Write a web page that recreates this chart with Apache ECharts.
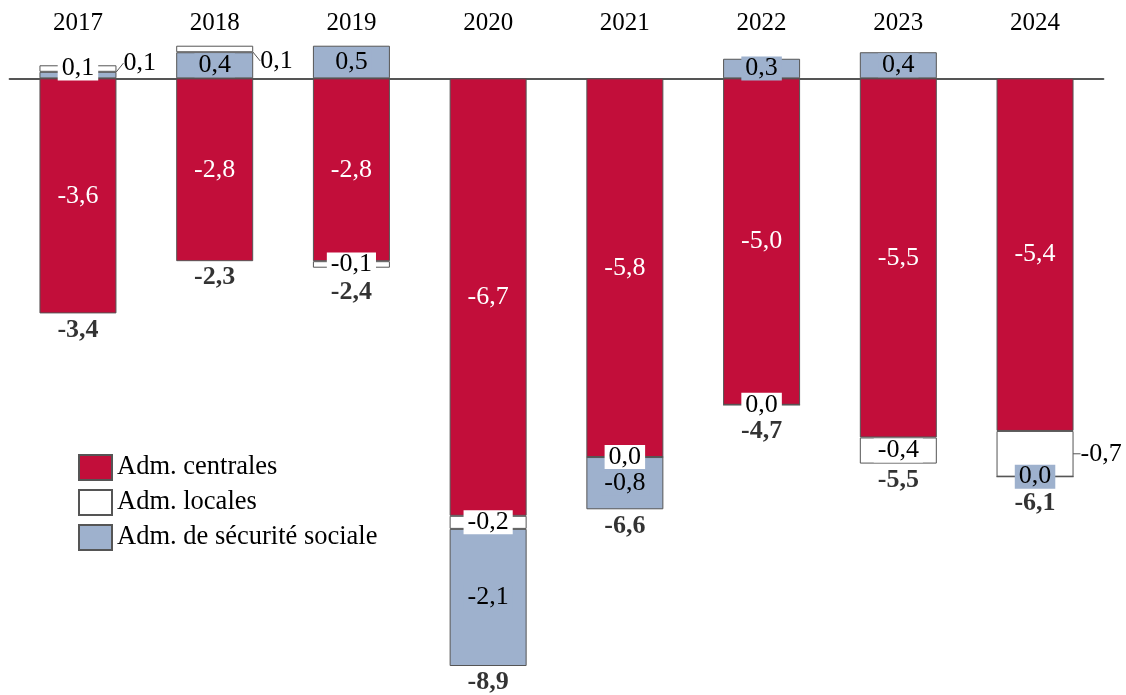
<!DOCTYPE html>
<html>
<head>
<meta charset="utf-8">
<script src="https://cdn.jsdelivr.net/npm/echarts@6/dist/echarts.min.js"></script>
<style>
  html, body { margin: 0; padding: 0; background: #fff; }
  #chart { width: 1126px; height: 695px; }
</style>
</head>
<body>
<div id="chart"></div>
<script>
// Solde des administrations publiques par sous-secteur (points de PIB)
const years = ['2017', '2018', '2019', '2020', '2021', '2022', '2023', '2024'];
const centrales = [-3.6, -2.8, -2.8, -6.7, -5.8, -5.0, -5.5, -5.4];
const locales   = [0.1, 0.1, -0.1, -0.2, 0.0, 0.0, -0.4, -0.7];
const securite  = [0.1, 0.4, 0.5, -2.1, -0.8, 0.3, 0.4, 0.0];
const totals    = [-3.4, -2.3, -2.4, -8.9, -6.6, -4.7, -5.5, -6.1];

const NAMES = ['Adm. centrales', 'Adm. locales', 'Adm. de sécurité sociale'];
const FONT = '"Liberation Serif", "DejaVu Serif", serif';
const RED = '#c20e3a', BLUE = '#9eb1cd', EDGE = '#555';

const fmt = v => v.toFixed(1).replace('.', ',');
// a zero share is drawn at the foot of the negative stack
const nz = v => (v === 0 ? -1e-9 : v);

// foot of each negative stack, where the total is written
const negFoot = years.map((_, i) =>
  [centrales[i], locales[i], securite[i]].filter(v => v < 0).reduce((a, b) => a + b, 0));

const leader = { show: true, lineStyle: { color: EDGE, width: 1 } };
const outsideRight = dy => ({
  position: 'right', distance: 7, offset: [0, dy], align: 'left', verticalAlign: 'middle',
  backgroundColor: 'transparent', padding: 0
});

// per-item label placement
const localesNegLabel = { 7: outsideRight(0) };
const localesPosLabel = { 1: outsideRight(12) };
const securiteLabel   = { 0: outsideRight(-12) };
const totalDistance   = { 2: 11, 5: 13, 7: 13 };

function withLabels(values, overrides) {
  return values.map((v, i) => {
    if (v === '-') return '-';
    if (overrides[i]) return { value: v, label: overrides[i], labelLine: leader };
    return v;
  });
}

const textBase = { fontFamily: FONT, fontSize: 26, color: '#000' };
const barBase = {
  type: 'bar', stack: 'solde', barWidth: 77, xAxisIndex: 0, yAxisIndex: 0,
  itemStyle: { borderColor: EDGE, borderWidth: 1 }
};

const chart = echarts.init(document.getElementById('chart'), null, { renderer: 'canvas' });
chart.setOption({
  animation: false,
  backgroundColor: '#fff',
  grid: { left: 9.6, right: 22.6, top: 0, bottom: 29 },
  legend: {
    data: NAMES, orient: 'vertical', left: 73, top: 449,
    itemWidth: 33, itemHeight: 25, itemGap: 8, icon: 'rect',
    textStyle: { fontFamily: FONT, fontSize: 26.5, color: '#000' }
  },
  xAxis: [
    {
      type: 'category', data: years, position: 'top',
      axisLine: { show: false, onZero: false }, axisTick: { show: false }, splitLine: { show: false },
      axisLabel: { inside: true, margin: 11, fontFamily: FONT, fontSize: 25, color: '#000' }
    },
    {
      type: 'category', data: years, position: 'bottom',
      axisLine: { show: true, onZero: true, onZeroAxisIndex: 0, lineStyle: { color: EDGE, width: 2 } },
      axisTick: { show: false }, axisLabel: { show: false }, splitLine: { show: false }
    }
  ],
  yAxis: { type: 'value', min: -9, max: 1.2, show: false, splitLine: { show: false } },
  series: [
    Object.assign({}, barBase, {
      name: NAMES[0],
      data: centrales.slice(),
      itemStyle: { color: RED, borderColor: EDGE, borderWidth: 1 },
      label: Object.assign({}, textBase, { show: true, position: 'inside', color: '#fff',
        formatter: p => fmt(centrales[p.dataIndex]) })
    }),
    Object.assign({}, barBase, {
      name: NAMES[1],
      data: withLabels(locales.map(v => (v > 0 ? '-' : nz(v))), localesNegLabel),
      itemStyle: { color: '#fff', borderColor: EDGE, borderWidth: 1 },
      label: Object.assign({}, textBase, { show: true, position: 'inside',
        backgroundColor: '#fff', padding: [0, 4], lineHeight: 24,
        formatter: p => fmt(locales[p.dataIndex]) })
    }),
    Object.assign({}, barBase, {
      name: NAMES[2],
      data: withLabels(securite.map(nz), securiteLabel),
      itemStyle: { color: BLUE, borderColor: EDGE, borderWidth: 1 },
      label: Object.assign({}, textBase, { show: true, position: 'inside',
        backgroundColor: BLUE, padding: [0, 4], lineHeight: 24,
        formatter: p => fmt(securite[p.dataIndex]) })
    }),
    Object.assign({}, barBase, {
      name: NAMES[1],
      data: withLabels(locales.map(v => (v > 0 ? v : '-')), localesPosLabel),
      itemStyle: { color: '#fff', borderColor: EDGE, borderWidth: 1 },
      label: Object.assign({}, textBase, { show: true, position: 'inside',
        backgroundColor: '#fff', padding: [0, 4], lineHeight: 24,
        formatter: p => fmt(locales[p.dataIndex]) })
    }),
    {
      type: 'scatter', name: 'Total', xAxisIndex: 0, yAxisIndex: 0,
      symbolSize: 1, itemStyle: { color: 'transparent' }, silent: true,
      data: negFoot.map((v, i) => ({
        value: v,
        label: { distance: totalDistance[i] != null ? totalDistance[i] : 3 }
      })),
      label: Object.assign({}, textBase, { show: true, position: 'bottom', fontWeight: 'bold',
        formatter: p => fmt(totals[p.dataIndex]) })
    }
  ]
});
</script>
</body>
</html>
